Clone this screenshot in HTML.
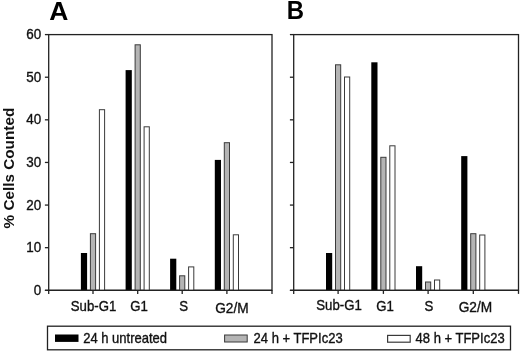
<!DOCTYPE html>
<html><head><meta charset="utf-8"><style>
html,body{margin:0;padding:0;background:#fff;}
svg{display:block;will-change:transform;}
text{font-family:"Liberation Sans",sans-serif;fill:#111;}
.t{font-size:14.0px;}
.xl{font-size:14.2px;}
.lg{font-size:14.0px;}
.t,.xl,.lg{stroke:#111;stroke-width:0.35px;}
.yt{font-size:15.3px;font-weight:bold;}
.pl{font-size:25.2px;font-weight:bold;fill:#000;}
</style></head><body>
<svg width="520" height="352" viewBox="0 0 520 352">
<rect x="0" y="0" width="520" height="352" fill="#fff"/>
<rect x="48.7" y="34.6" width="223.3" height="255.70000000000002" fill="none" stroke="#222" stroke-width="1.3"/>
<line x1="44.900000000000006" y1="290.30" x2="48.7" y2="290.30" stroke="#222" stroke-width="1.3"/>
<line x1="44.900000000000006" y1="247.68" x2="48.7" y2="247.68" stroke="#222" stroke-width="1.3"/>
<line x1="44.900000000000006" y1="205.07" x2="48.7" y2="205.07" stroke="#222" stroke-width="1.3"/>
<line x1="44.900000000000006" y1="162.45" x2="48.7" y2="162.45" stroke="#222" stroke-width="1.3"/>
<line x1="44.900000000000006" y1="119.83" x2="48.7" y2="119.83" stroke="#222" stroke-width="1.3"/>
<line x1="44.900000000000006" y1="77.22" x2="48.7" y2="77.22" stroke="#222" stroke-width="1.3"/>
<line x1="44.900000000000006" y1="34.60" x2="48.7" y2="34.60" stroke="#222" stroke-width="1.3"/>
<line x1="48.7" y1="290.3" x2="48.7" y2="293.90000000000003" stroke="#222" stroke-width="1.3"/>
<line x1="93.0" y1="290.3" x2="93.0" y2="293.90000000000003" stroke="#222" stroke-width="1.3"/>
<line x1="137.7" y1="290.3" x2="137.7" y2="293.90000000000003" stroke="#222" stroke-width="1.3"/>
<line x1="182.2" y1="290.3" x2="182.2" y2="293.90000000000003" stroke="#222" stroke-width="1.3"/>
<line x1="226.9" y1="290.3" x2="226.9" y2="293.90000000000003" stroke="#222" stroke-width="1.3"/>
<line x1="272.0" y1="290.3" x2="272.0" y2="293.90000000000003" stroke="#222" stroke-width="1.3"/>
<rect x="80.90" y="253.00" width="6.2" height="37.30" fill="#000"/>
<rect x="90.40" y="233.70" width="5.20" height="56.60" fill="#b4b4b4" stroke="#3a3a3a" stroke-width="1.0"/>
<rect x="99.40" y="109.70" width="5.20" height="180.60" fill="#fff" stroke="#3a3a3a" stroke-width="1.0"/>
<rect x="125.60" y="70.10" width="6.2" height="220.20" fill="#000"/>
<rect x="135.10" y="44.80" width="5.20" height="245.50" fill="#b4b4b4" stroke="#3a3a3a" stroke-width="1.0"/>
<rect x="144.10" y="126.80" width="5.20" height="163.50" fill="#fff" stroke="#3a3a3a" stroke-width="1.0"/>
<rect x="170.10" y="258.70" width="6.2" height="31.60" fill="#000"/>
<rect x="179.60" y="275.80" width="5.20" height="14.50" fill="#b4b4b4" stroke="#3a3a3a" stroke-width="1.0"/>
<rect x="188.60" y="266.90" width="5.20" height="23.40" fill="#fff" stroke="#3a3a3a" stroke-width="1.0"/>
<rect x="214.80" y="159.90" width="6.2" height="130.40" fill="#000"/>
<rect x="224.30" y="142.70" width="5.20" height="147.60" fill="#b4b4b4" stroke="#3a3a3a" stroke-width="1.0"/>
<rect x="233.30" y="234.80" width="5.20" height="55.50" fill="#fff" stroke="#3a3a3a" stroke-width="1.0"/>
<rect x="293.7" y="34.6" width="224.8" height="255.70000000000002" fill="none" stroke="#222" stroke-width="1.3"/>
<line x1="289.9" y1="290.30" x2="293.7" y2="290.30" stroke="#222" stroke-width="1.3"/>
<line x1="289.9" y1="247.68" x2="293.7" y2="247.68" stroke="#222" stroke-width="1.3"/>
<line x1="289.9" y1="205.07" x2="293.7" y2="205.07" stroke="#222" stroke-width="1.3"/>
<line x1="289.9" y1="162.45" x2="293.7" y2="162.45" stroke="#222" stroke-width="1.3"/>
<line x1="289.9" y1="119.83" x2="293.7" y2="119.83" stroke="#222" stroke-width="1.3"/>
<line x1="289.9" y1="77.22" x2="293.7" y2="77.22" stroke="#222" stroke-width="1.3"/>
<line x1="289.9" y1="34.60" x2="293.7" y2="34.60" stroke="#222" stroke-width="1.3"/>
<line x1="293.7" y1="290.3" x2="293.7" y2="293.90000000000003" stroke="#222" stroke-width="1.3"/>
<line x1="338.1" y1="290.3" x2="338.1" y2="293.90000000000003" stroke="#222" stroke-width="1.3"/>
<line x1="383.4" y1="290.3" x2="383.4" y2="293.90000000000003" stroke="#222" stroke-width="1.3"/>
<line x1="428.1" y1="290.3" x2="428.1" y2="293.90000000000003" stroke="#222" stroke-width="1.3"/>
<line x1="473.3" y1="290.3" x2="473.3" y2="293.90000000000003" stroke="#222" stroke-width="1.3"/>
<line x1="518.5" y1="290.3" x2="518.5" y2="293.90000000000003" stroke="#222" stroke-width="1.3"/>
<rect x="326.00" y="253.00" width="6.2" height="37.30" fill="#000"/>
<rect x="335.50" y="64.80" width="5.20" height="225.50" fill="#b4b4b4" stroke="#3a3a3a" stroke-width="1.0"/>
<rect x="344.50" y="77.00" width="5.20" height="213.30" fill="#fff" stroke="#3a3a3a" stroke-width="1.0"/>
<rect x="371.30" y="62.30" width="6.2" height="228.00" fill="#000"/>
<rect x="380.80" y="157.30" width="5.20" height="133.00" fill="#b4b4b4" stroke="#3a3a3a" stroke-width="1.0"/>
<rect x="389.80" y="145.80" width="5.20" height="144.50" fill="#fff" stroke="#3a3a3a" stroke-width="1.0"/>
<rect x="416.00" y="266.20" width="6.2" height="24.10" fill="#000"/>
<rect x="425.50" y="282.00" width="5.20" height="8.30" fill="#b4b4b4" stroke="#3a3a3a" stroke-width="1.0"/>
<rect x="434.50" y="280.00" width="5.20" height="10.30" fill="#fff" stroke="#3a3a3a" stroke-width="1.0"/>
<rect x="461.20" y="156.10" width="6.2" height="134.20" fill="#000"/>
<rect x="470.70" y="233.70" width="5.20" height="56.60" fill="#b4b4b4" stroke="#3a3a3a" stroke-width="1.0"/>
<rect x="479.70" y="235.00" width="5.20" height="55.30" fill="#fff" stroke="#3a3a3a" stroke-width="1.0"/>
<line x1="44.900000000000006" y1="290.3" x2="272.0" y2="290.3" stroke="#222" stroke-width="1.3"/>
<line x1="289.9" y1="290.3" x2="518.5" y2="290.3" stroke="#222" stroke-width="1.3"/>
<text transform="translate(41.20 294.90) scale(0.96 1)" text-anchor="end" class="t">0</text>
<text transform="translate(41.20 252.28) scale(0.96 1)" text-anchor="end" class="t">10</text>
<text transform="translate(41.20 209.67) scale(0.96 1)" text-anchor="end" class="t">20</text>
<text transform="translate(41.20 167.05) scale(0.96 1)" text-anchor="end" class="t">30</text>
<text transform="translate(41.20 124.43) scale(0.96 1)" text-anchor="end" class="t">40</text>
<text transform="translate(41.20 81.82) scale(0.96 1)" text-anchor="end" class="t">50</text>
<text transform="translate(41.20 39.20) scale(0.96 1)" text-anchor="end" class="t">60</text>
<text transform="translate(13.8,168.1) rotate(-90)" text-anchor="middle" class="yt">% Cells Counted</text>
<text transform="translate(49.30 20.00) scale(1.05 1)" text-anchor="start" class="pl">A</text>
<text transform="translate(286.80 18.90) scale(0.95 1)" text-anchor="start" class="pl">B</text>
<text transform="translate(93.50 311.20) scale(0.93 1)" text-anchor="middle" class="xl">Sub-G1</text>
<text transform="translate(139.00 311.40) scale(0.93 1)" text-anchor="middle" class="xl">G1</text>
<text transform="translate(183.70 311.10) scale(0.93 1)" text-anchor="middle" class="xl">S</text>
<text transform="translate(231.90 312.80) scale(0.965 1)" text-anchor="middle" class="xl">G2/M</text>
<text transform="translate(339.00 309.50) scale(0.93 1)" text-anchor="middle" class="xl">Sub-G1</text>
<text transform="translate(385.00 310.50) scale(0.93 1)" text-anchor="middle" class="xl">G1</text>
<text transform="translate(429.00 310.80) scale(0.93 1)" text-anchor="middle" class="xl">S</text>
<text transform="translate(475.40 312.40) scale(0.965 1)" text-anchor="middle" class="xl">G2/M</text>
<rect x="47.5" y="326.2" width="463" height="23.6" fill="none" stroke="#222" stroke-width="1.3"/>
<rect x="55" y="334.5" width="23.5" height="7.4" fill="#000"/>
<rect x="224.6" y="335" width="22.6" height="7" fill="#b4b4b4" stroke="#3a3a3a" stroke-width="1"/>
<rect x="387.6" y="335.4" width="22.6" height="6.8" fill="#fff" stroke="#3a3a3a" stroke-width="1.2"/>
<text transform="translate(83.20 343.40) scale(0.93 1)" text-anchor="start" class="lg">24 h untreated</text>
<text transform="translate(253.60 343.40) scale(0.93 1)" text-anchor="start" class="lg">24 h + TFPIc23</text>
<text transform="translate(415.60 343.40) scale(0.93 1)" text-anchor="start" class="lg">48 h + TFPIc23</text>
</svg>
</body></html>
